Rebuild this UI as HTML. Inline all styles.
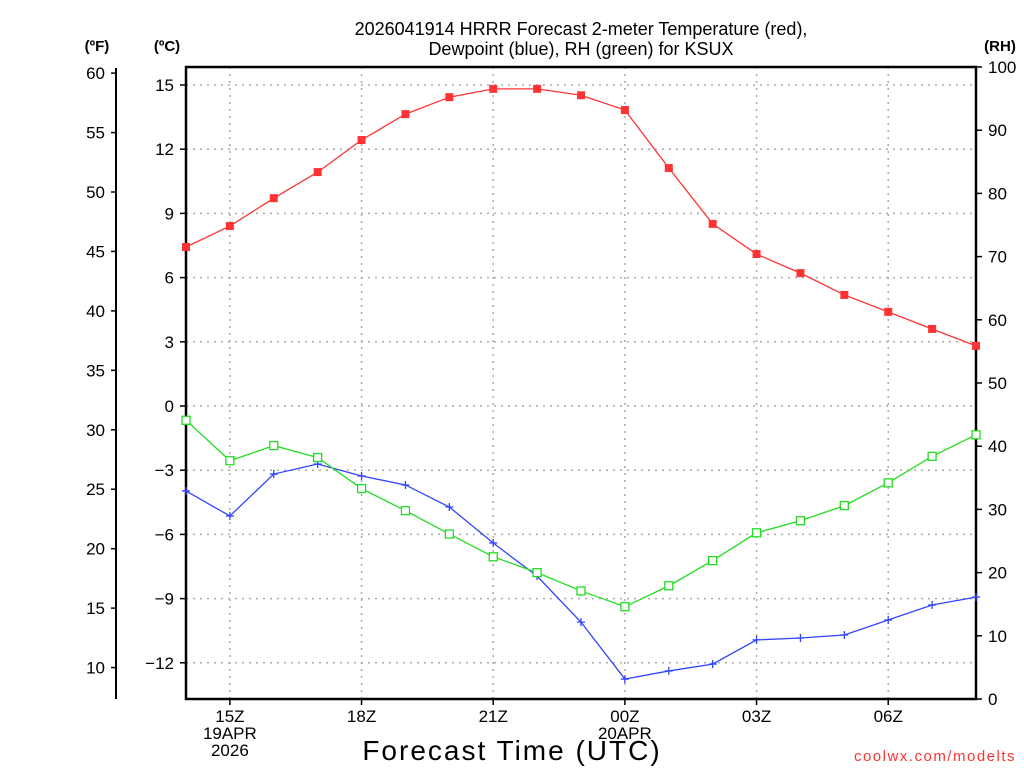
<!DOCTYPE html>
<html><head><meta charset="utf-8"><style>
html,body{margin:0;padding:0;background:#fff;}
svg{display:block;font-family:"Liberation Sans","DejaVu Sans",sans-serif;}
</style></head><body>
<svg id="chart" width="1024" height="768" viewBox="0 0 1024 768" xmlns="http://www.w3.org/2000/svg">
<g id="grid"></g>
<g id="axes"></g>
<g id="series"></g>
<text x="581" y="35" font-size="18" text-anchor="middle">2026041914 HRRR Forecast 2-meter Temperature (red),</text>
<text x="581" y="55" font-size="18" text-anchor="middle">Dewpoint (blue), RH (green) for KSUX</text>
<text x="97" y="51" font-size="15" font-weight="bold" text-anchor="middle">(ºF)</text>
<text x="167" y="51" font-size="15" font-weight="bold" text-anchor="middle">(ºC)</text>
<text x="1000" y="51" font-size="15" font-weight="bold" text-anchor="middle">(RH)</text>
<text x="512" y="760" font-size="28" text-anchor="middle" letter-spacing="2">Forecast Time (UTC)</text>
<text x="1016" y="761" font-size="15" fill="#ff3333" text-anchor="end" letter-spacing="1.5">coolwx.com/modelts</text>
</svg>
<script>
const hours=[14,15,16,17,18,19,20,21,22,23,0,1,2,3,4,5,6,7,8];
const tempC=[7.43,8.41,9.71,10.93,12.43,13.64,14.43,14.82,14.82,14.52,13.83,11.12,8.51,7.10,6.21,5.19,4.40,3.60,2.81];
const dewC=[-3.97,-5.14,-3.18,-2.71,-3.27,-3.69,-4.72,-6.40,-7.95,-10.10,-12.76,-12.38,-12.06,-10.93,-10.84,-10.70,-10.0,-9.30,-8.93];
const rh=[44.1,37.7,40.1,38.2,33.3,29.8,26.1,22.5,20.0,17.1,14.6,17.9,21.9,26.3,28.2,30.6,34.2,38.4,41.8];
const cTicks=[15,12,9,6,3,0,-3,-6,-9,-12];
const fTicks=[60,55,50,45,40,35,30,25,20,15,10];
const rhTicks=[100,90,80,70,60,50,40,30,20,10,0];
const xTickLabels=[["15Z","19APR","2026"],["18Z"],["21Z"],["00Z","20APR"],["03Z"],["06Z"]];
const xTickIdx=[1,4,7,10,13,16];

const NS="http://www.w3.org/2000/svg";
const L=186,R=976,T=67,B=699;
const xs=i=>L+i*(R-L)/18;
const yc=c=>406-c*21.4;
const yf=f=>yc((f-32)*5/9);
const yr=r=>B-r*(B-T)/100;
function mk(tag,attrs,parent,txt){const e=document.createElementNS(NS,tag);for(const k in attrs)e.setAttribute(k,attrs[k]);if(txt!==undefined)e.textContent=txt;parent.appendChild(e);return e;}
const grid=document.getElementById('grid'),axes=document.getElementById('axes'),ser=document.getElementById('series');

cTicks.forEach(c=>{
  const y=yc(c);
  const g=mk('line',{x1:L,x2:R,y1:y,y2:y,stroke:'#aaa','stroke-width':1.5,'stroke-dasharray':'2 5'},grid);
  
  
  mk('line',{x1:L-6,x2:L,y1:y,y2:y,stroke:'#000','stroke-width':1.5},axes);
  const t=mk('text',{x:L-12,y:y+6,'font-size':17,'text-anchor':'end'},axes,(c<0?'\u2212':'')+Math.abs(c));
  
  
});
xTickIdx.forEach((i,k)=>{
  const x=xs(i);
  const g=mk('line',{x1:x,x2:x,y1:T,y2:B,stroke:'#aaa','stroke-width':1.5,'stroke-dasharray':'2 5'},grid);
  
  
  mk('line',{x1:x,x2:x,y1:B,y2:B+6,stroke:'#000','stroke-width':1.5},axes);
  xTickLabels[k].forEach((s,j)=>{
    const t=mk('text',{x:x,y:B+23+j*17,'font-size':17,'text-anchor':'middle'},axes,s);
    
    
  });
});
fTicks.forEach(f=>{
  const y=yf(f);
  mk('line',{x1:111,x2:116,y1:y,y2:y,stroke:'#000','stroke-width':1.5},axes);
  const t=mk('text',{x:105,y:y+6,'font-size':17,'text-anchor':'end'},axes,f);
  
  
});
rhTicks.forEach(r=>{
  const y=yr(r);
  mk('line',{x1:R,x2:R+6,y1:y,y2:y,stroke:'#000','stroke-width':1.5},axes);
  const t=mk('text',{x:R+12,y:y+6,'font-size':17,'text-anchor':'start'},axes,r);
  
  
});
mk('line',{x1:116,x2:116,y1:68,y2:B,stroke:'#000','stroke-width':2},axes);
const fr=mk('rect',{x:L,y:T,width:R-L,height:B-T,fill:'none',stroke:'#000','stroke-width':2.5},axes);



function line(vals,yfn,color,name){
  const pts=vals.map((v,i)=>xs(i)+','+yfn(v)).join(' ');
  const p=mk('polyline',{points:pts,fill:'none',stroke:color,'stroke-width':1.3},ser);
  
  
}
line(tempC,yc,'#ff3333','temperature');
tempC.forEach((v,i)=>{
  const m=mk('rect',{x:xs(i)-4,y:yc(v)-4,width:8,height:8,fill:'#ff3333'},ser);
  
  
});
line(dewC,yc,'#3344ff','dewpoint');
dewC.forEach((v,i)=>{
  const x=xs(i),y=yc(v);
  const m=mk('path',{d:`M${x-4},${y}H${x+4}M${x},${y-4}V${y+4}`,stroke:'#3344ff','stroke-width':1.3},ser);
  
  
});
line(rh,yr,'#22dd22','rh');
rh.forEach((v,i)=>{
  const m=mk('rect',{x:xs(i)-4,y:yr(v)-4,width:8,height:8,fill:'#fff',stroke:'#22dd22','stroke-width':1.3},ser);
  
  
});
</script>
</body></html>
